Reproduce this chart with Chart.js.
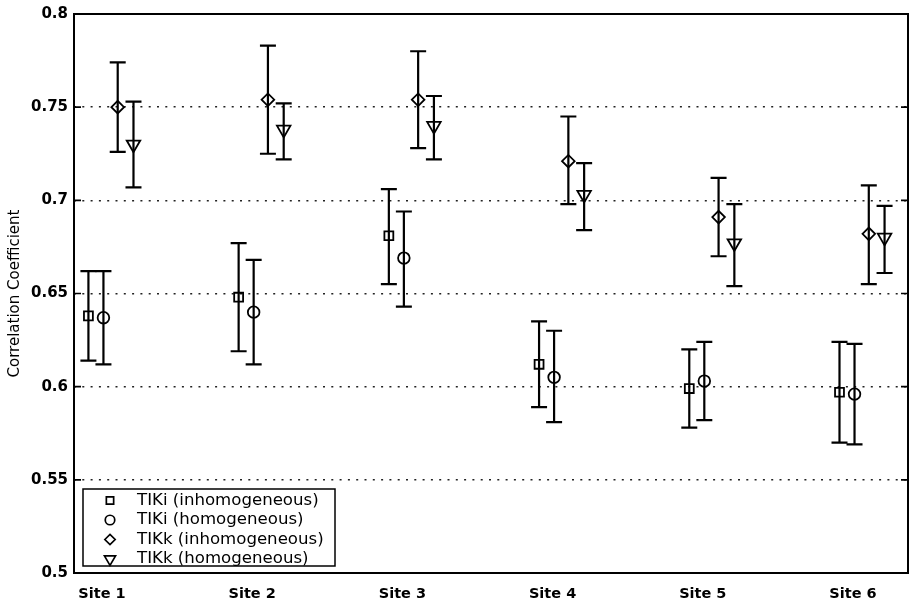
<!DOCTYPE html>
<html>
<head>
<meta charset="utf-8">
<script src="https://cdn.jsdelivr.net/npm/chart.js@4/dist/chart.umd.min.js"></script>
<style>
html,body{margin:0;padding:0;background:#fff;}
#wrap{width:911px;height:602px;position:relative;}
</style>
</head>
<body>
<div id="wrap"><canvas id="c" width="911" height="602"></canvas></div>
<script>
// ---- data ----
const SITES = ['Site 1', 'Site 2', 'Site 3', 'Site 4', 'Site 5', 'Site 6'];
const SERIES_NAMES = ['TIKi (inhomogeneous)', 'TIKi (homogeneous)', 'TIKk (inhomogeneous)', 'TIKk (homogeneous)'];

const TIKI_INHOM    = [0.638, 0.648, 0.681, 0.612, 0.599, 0.597];
const TIKI_INHOM_LO = [0.614, 0.619, 0.655, 0.589, 0.578, 0.570];
const TIKI_INHOM_HI = [0.662, 0.677, 0.706, 0.635, 0.620, 0.624];

const TIKI_HOM    = [0.637, 0.640, 0.669, 0.605, 0.603, 0.596];
const TIKI_HOM_LO = [0.612, 0.612, 0.643, 0.581, 0.582, 0.569];
const TIKI_HOM_HI = [0.662, 0.668, 0.694, 0.630, 0.624, 0.623];

const TIKK_INHOM    = [0.750, 0.754, 0.754, 0.721, 0.691, 0.682];
const TIKK_INHOM_LO = [0.726, 0.725, 0.728, 0.698, 0.670, 0.655];
const TIKK_INHOM_HI = [0.774, 0.783, 0.780, 0.745, 0.712, 0.708];

const TIKK_HOM    = [0.730, 0.738, 0.740, 0.703, 0.677, 0.680];
const TIKK_HOM_LO = [0.707, 0.722, 0.722, 0.684, 0.654, 0.661];
const TIKK_HOM_HI = [0.753, 0.752, 0.756, 0.720, 0.698, 0.697];

const Y_TICKS = [0.5, 0.55, 0.6, 0.65, 0.7, 0.75, 0.8];
const Y_TICK_LABELS = ['0.5', '0.55', '0.6', '0.65', '0.7', '0.75', '0.8'];
const Y_TITLE = 'Correlation Coefficient';

// ---- presentation ----
const X_OFFSETS = [-0.09, 0.01, 0.105, 0.21];
const STYLES = [
  {pointStyle: 'rect', radius: 6.3, rotation: 0},
  {pointStyle: 'circle', radius: 5.8, rotation: 0},
  {pointStyle: 'rectRot', radius: 6.3, rotation: 0},
  {pointStyle: 'triangle', radius: 7.8, rotation: 180}
];
const CAP = 8;

const MEANS = [TIKI_INHOM, TIKI_HOM, TIKK_INHOM, TIKK_HOM];
const LOS = [TIKI_INHOM_LO, TIKI_HOM_LO, TIKK_INHOM_LO, TIKK_HOM_LO];
const HIS = [TIKI_INHOM_HI, TIKI_HOM_HI, TIKK_INHOM_HI, TIKK_HOM_HI];

const datasets = SERIES_NAMES.map((name, si) => ({
  label: name,
  data: MEANS[si].map((v, i) => ({x: i + 1 + X_OFFSETS[si], y: v, lo: LOS[si][i], hi: HIS[si][i]})),
  showLine: false,
  pointStyle: STYLES[si].pointStyle,
  pointRadius: STYLES[si].radius,
  pointRotation: STYLES[si].rotation,
  pointBorderWidth: 1.8,
  pointBorderColor: '#000',
  pointBackgroundColor: 'rgba(0,0,0,0)',
  pointHoverRadius: STYLES[si].radius
}));

const errorBars = {
  id: 'errorBars',
  beforeDatasetsDraw(chart) {
    const {ctx} = chart;
    const xs = chart.scales.x, ys = chart.scales.y;
    ctx.save();
    ctx.strokeStyle = '#000';
    ctx.lineWidth = 2.2;
    ctx.lineCap = 'butt';
    chart.data.datasets.forEach(ds => {
      ds.data.forEach(p => {
        const px = xs.getPixelForValue(p.x);
        const yl = ys.getPixelForValue(p.lo);
        const yh = ys.getPixelForValue(p.hi);
        ctx.beginPath();
        ctx.moveTo(px, yh); ctx.lineTo(px, yl);
        ctx.moveTo(px - CAP, yh); ctx.lineTo(px + CAP, yh);
        ctx.moveTo(px - CAP, yl); ctx.lineTo(px + CAP, yl);
        ctx.stroke();
      });
    });
    ctx.restore();
  }
};

function drawMarker(ctx, st, x, y) {
  ctx.save();
  ctx.strokeStyle = '#000';
  ctx.fillStyle = 'rgba(0,0,0,0)';
  ctx.lineWidth = 1.7;
  if (Chart.helpers && Chart.helpers.drawPoint) {
    Chart.helpers.drawPoint(ctx, {pointStyle: st.pointStyle, radius: st.radius, rotation: st.rotation, borderWidth: 1.7}, x, y);
  }
  ctx.restore();
}

const frame = {
  id: 'frame',
  afterDraw(chart) {
    const {ctx, chartArea: a} = chart;
    const ys = chart.scales.y;
    ctx.save();
    ctx.strokeStyle = '#000';
    ctx.lineWidth = 2;
    ctx.strokeRect(a.left, a.top, a.right - a.left, a.bottom - a.top);
    ctx.lineWidth = 1.6;
    ctx.beginPath();
    Y_TICKS.forEach(v => {
      const py = ys.getPixelForValue(v);
      ctx.moveTo(a.left, py); ctx.lineTo(a.left + 7, py);
      ctx.moveTo(a.right, py); ctx.lineTo(a.right - 7, py);
    });
    ctx.stroke();

    // legend box
    const bx = a.left + 9, bw = 252, bh = 77, by = a.bottom - 84;
    ctx.fillStyle = '#fff';
    ctx.fillRect(bx, by, bw, bh);
    ctx.lineWidth = 1.5;
    ctx.strokeRect(bx, by, bw, bh);
    ctx.font = '16.6px "DejaVu Sans"';
    ctx.textBaseline = 'middle';
    ctx.textAlign = 'left';
    SERIES_NAMES.forEach((name, i) => {
      const cy = by + 11.5 + i * 19.5;
      const st = Object.assign({}, STYLES[i], {radius: STYLES[i].radius * 0.82});
      drawMarker(ctx, st, bx + 27, cy);
      ctx.fillStyle = '#000';
      ctx.fillText(name, bx + 54, cy);
    });
    ctx.restore();
  }
};

new Chart(document.getElementById('c'), {
  type: 'scatter',
  data: {datasets},
  options: {
    responsive: false,
    animation: false,
    devicePixelRatio: 1,
    layout: {autoPadding: false, padding: {top: 14, right: 3, left: 0, bottom: 0}},
    plugins: {legend: {display: false}, tooltip: {enabled: false}},
    scales: {
      x: {
        type: 'linear',
        min: 0.814,
        max: 6.366,
        afterBuildTicks: s => { s.ticks = SITES.map((n, i) => ({value: i + 1})); },
        afterFit: s => { s.height = 29; s.paddingLeft = 0; s.paddingRight = 0; },
        grid: {display: false, drawTicks: false},
        border: {display: false},
        ticks: {
          callback: (v) => SITES[Math.round(v) - 1] || '',
          color: '#000',
          padding: 13,
          maxRotation: 0,
          autoSkip: false,
          font: {family: '"DejaVu Sans"', size: 14.5, weight: 'bold'}
        }
      },
      y: {
        min: 0.5,
        max: 0.8,
        afterBuildTicks: s => { s.ticks = Y_TICKS.map(v => ({value: v})); },
        afterFit: s => { s.width = 74; s.paddingTop = 0; s.paddingBottom = 0; },
        grid: {
          drawTicks: false,
          color: c => (c.tick && (c.tick.value <= 0.5001 || c.tick.value >= 0.7999)) ? 'rgba(0,0,0,0)' : '#222',
          lineWidth: 1.5
        },
        border: {display: false, dash: [2, 6.3]},
        ticks: {
          callback: (v) => Y_TICK_LABELS[Y_TICKS.findIndex(t => Math.abs(t - v) < 1e-6)],
          color: '#000',
          padding: 6,
          autoSkip: false,
          font: {family: '"DejaVu Sans"', size: 15, weight: 'bold'}
        },
        title: {
          display: true,
          text: Y_TITLE,
          color: '#000',
          padding: {top: 6, bottom: 0},
          font: {family: '"DejaVu Sans"', size: 15}
        }
      }
    }
  },
  plugins: [errorBars, frame]
});
</script>
</body>
</html>
